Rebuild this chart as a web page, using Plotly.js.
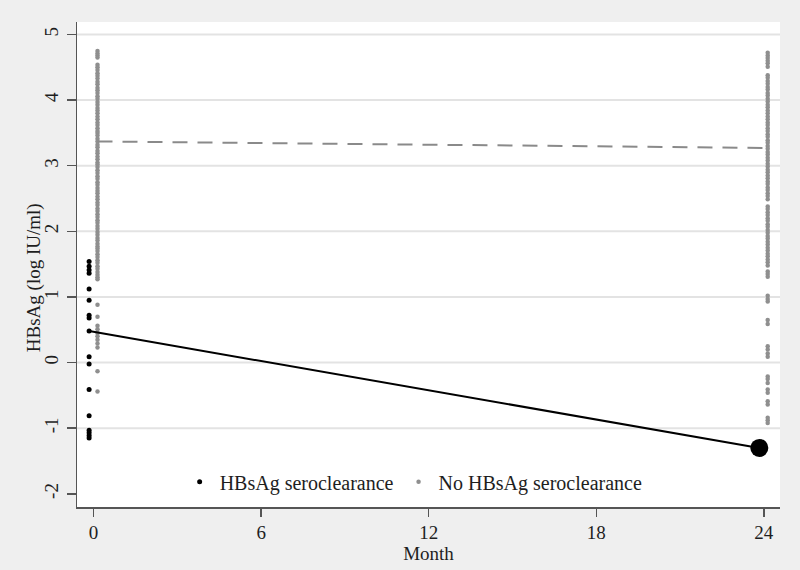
<!DOCTYPE html>
<html>
<head>
<meta charset="utf-8">
<script src="https://cdn.plot.ly/plotly-3.0.1.min.js"></script>
<style>html,body{margin:0;padding:0;background:#efefef;}#chart{width:800px;height:570px;}</style>
</head>
<body>
<div id="chart"></div>
<script>
// ---- data ----
var months = [0, 24];
var xTickVals = [0, 6, 12, 18, 24];
var yTickVals = [-2, -1, 0, 1, 2, 3, 4, 5];
var gridVals = [-1, 0, 1, 2, 3, 4, 5];

var seriesNames = ["HBsAg seroclearance", "No HBsAg seroclearance"];
var xTitle = "Month";
var yTitle = "HBsAg (log IU/ml)";

// HBsAg seroclearance, individual values at month 0 and 24
var clearM0 = [1.54, 1.47, 1.41, 1.36, 1.12, 0.95, 0.72, 0.68, 0.48, 0.09, -0.02, -0.41, -0.81, -1.03, -1.07, -1.11, -1.15];
var clearM24 = [-1.30];
var clearMean = [0.48, -1.30];

// No HBsAg seroclearance, individual values at month 0 and 24
var noClearM0 = [4.75, 4.71, 4.68, 4.65,
  4.54, 4.50, 4.46, 4.41, 4.37, 4.33, 4.28, 4.24, 4.19, 4.15, 4.11, 4.06, 4.02, 3.97, 3.93, 3.88,
  3.84, 3.80, 3.75, 3.71, 3.66, 3.62, 3.57, 3.53, 3.50, 3.46, 3.41, 3.37, 3.32, 3.28, 3.23, 3.19,
  3.14, 3.10, 3.05, 3.02, 2.98, 2.93, 2.89, 2.84, 2.80, 2.75, 2.71, 2.66, 2.62, 2.58, 2.53, 2.49,
  2.44, 2.40, 2.35, 2.31, 2.26, 2.22, 2.17, 2.13, 2.08, 2.04, 1.99, 1.95, 1.90, 1.86, 1.81, 1.77,
  1.74, 1.70, 1.65, 1.61, 1.56, 1.52, 1.47, 1.43, 1.38, 1.34, 1.30, 1.27,
  0.88, 0.70, 0.56, 0.51, 0.45, 0.40, 0.35, 0.29, 0.23, -0.13, -0.44];
var noClearM24 = [4.72, 4.68, 4.64, 4.60, 4.56, 4.51,
  4.38, 4.34, 4.29, 4.25, 4.20, 4.16, 4.11, 4.07, 4.02, 3.98, 3.93, 3.89, 3.84, 3.80, 3.75, 3.71,
  3.66, 3.62, 3.57, 3.53, 3.48, 3.44, 3.39, 3.35, 3.30, 3.26, 3.21, 3.17, 3.12, 3.08, 3.03, 2.99,
  2.94, 2.90, 2.85, 2.81, 2.76, 2.72, 2.67, 2.63, 2.58, 2.54, 2.49,
  2.38, 2.34, 2.29, 2.25, 2.20, 2.16, 2.11, 2.07, 2.02, 1.98, 1.93, 1.89, 1.84, 1.80, 1.75, 1.71,
  1.66, 1.62, 1.57, 1.53, 1.48,
  1.39, 1.35, 1.31, 1.02, 0.97, 0.93, 0.65, 0.59, 0.25, 0.20, 0.14, 0.09,
  -0.21, -0.25, -0.31, -0.41, -0.46, -0.59, -0.64, -0.84, -0.88, -0.92];
var noClearMean = [3.37, 3.27];

// ---- drawing ----
var offClear = -0.16, offNo = 0.14;   // small horizontal offsets of the two groups
function fill(v, n) { var a = []; for (var i = 0; i < n; i++) a.push(v); return a; }

var font = "'Liberation Serif', 'Times New Roman', serif";
var txt = '#1e1e1e';
var axc = '#555555';

var traces = [
  { type: 'scatter', mode: 'markers', name: seriesNames[1], showlegend: true, legendrank: 2,
    x: fill(months[0] + offNo, noClearM0.length), y: noClearM0,
    marker: { color: '#8f8f8f', size: 4.5 }, hoverinfo: 'y' },
  { type: 'scatter', mode: 'markers', name: seriesNames[1], showlegend: false,
    x: fill(months[1] + offNo, noClearM24.length), y: noClearM24,
    marker: { color: '#8f8f8f', size: 4.5 }, hoverinfo: 'y' },
  { type: 'scatter', mode: 'lines', name: seriesNames[1], showlegend: false,
    x: months.map(function (m) { return m + offNo; }), y: noClearMean,
    line: { color: '#8a8a8a', width: 2, dash: '15px,10px' } },
  { type: 'scatter', mode: 'markers', name: seriesNames[0], showlegend: true, legendrank: 1,
    x: fill(months[0] + offClear, clearM0.length), y: clearM0,
    marker: { color: '#000000', size: 5 }, hoverinfo: 'y' },
  { type: 'scatter', mode: 'lines', name: seriesNames[0], showlegend: false,
    x: months.map(function (m) { return m + offClear; }), y: clearMean,
    line: { color: '#000000', width: 2 } },
  { type: 'scatter', mode: 'markers', name: seriesNames[0], showlegend: false,
    x: fill(months[1] + offClear, clearM24.length), y: clearM24,
    marker: { color: '#000000', size: 18 } }
];

var shapes = gridVals.map(function (v) {
  return { type: 'line', layer: 'below', xref: 'paper', x0: 0, x1: 1, yref: 'y', y0: v, y1: v,
           line: { color: '#e3e3e3', width: 2 } };
});

var layout = {
  width: 800, height: 570,
  paper_bgcolor: '#efefef', plot_bgcolor: '#ffffff',
  margin: { l: 77, r: 20, t: 22, b: 63 },
  font: { family: font, size: 19, color: txt },
  showlegend: true,
  legend: { orientation: 'h', x: 0.146, xanchor: 'left', y: 0.052, yanchor: 'middle',
            bgcolor: 'rgba(0,0,0,0)',
            traceorder: 'normal', font: { family: font, size: 20, color: txt } },
  xaxis: {
    range: [-0.594, 24.58], tickvals: xTickVals, ticktext: xTickVals.map(String),
    ticks: 'outside', ticklen: 8, tickwidth: 1.5, tickcolor: axc,
    showline: true, linecolor: axc, linewidth: 1.5,
    showgrid: false, zeroline: false,
    tickfont: { family: font, size: 19, color: txt },
    title: { text: xTitle, font: { family: font, size: 19, color: txt }, standoff: 0 }
  },
  yaxis: {
    range: [-2.20, 5.19], tickvals: yTickVals, ticktext: yTickVals.map(String),
    tickangle: -90, ticklabelstandoff: 1,
    ticks: 'outside', ticklen: 9, tickwidth: 1.5, tickcolor: axc,
    showline: true, linecolor: axc, linewidth: 1.5,
    showgrid: false, zeroline: false,
    tickfont: { family: font, size: 19, color: txt }
  },
  annotations: [{
    text: yTitle, textangle: -90, showarrow: false,
    xref: 'paper', x: -0.061, xanchor: 'center',
    yref: 'paper', y: 0.472, yanchor: 'middle',
    font: { family: font, size: 19, color: txt }
  }],
  shapes: shapes
};

Plotly.newPlot('chart', traces, layout, { displayModeBar: false, staticPlot: true });
</script>
</body>
</html>
